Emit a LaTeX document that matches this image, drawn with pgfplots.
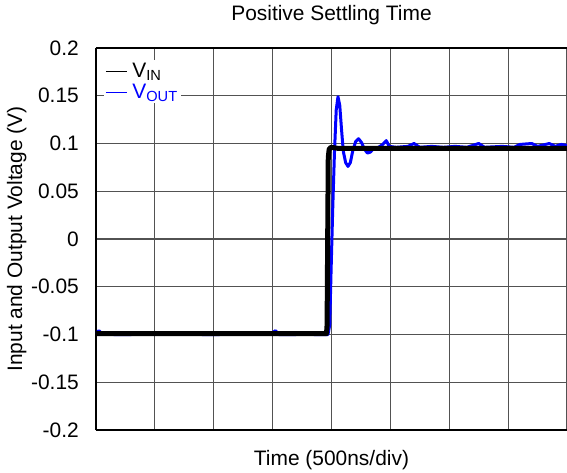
\documentclass[border=0pt]{standalone}
\usepackage{fontspec}
\setmainfont{Liberation Sans}
\usepackage{pgfplots}
\pgfplotsset{compat=1.18}
\newcommand{\bigfont}{\fontsize{21}{25}\selectfont}
\begin{document}
\begin{tikzpicture}
\begin{axis}[
    scale only axis,
    width=471bp, height=382bp,
    xmin=0, xmax=8,
    ymin=-0.2, ymax=0.2,
    xtick={0,1,...,8}, xticklabels={},
    ytick={-0.2,-0.15,-0.1,-0.05,0,0.05,0.1,0.15,0.2},
    yticklabels={-0.2,-0.15,-0.1,-0.05,0,0.05,0.1,0.15,0.2},
    major tick length=0pt,
    grid=major,
    grid style={line width=1.1bp, black!68},
    axis y line*=left,
    axis line style={-, line width=2.6bp, black},
    yticklabel style={font=\bigfont, inner sep=0pt, xshift=-17bp},
    title={Positive Settling Time},
    title style={font=\bigfont, at={(axis description cs:0.5,1.0576)}, anchor=base},
    xlabel={Time (500ns/div)},
    xlabel style={font=\bigfont, at={(axis description cs:0.5,-0.0942)}, anchor=base},
    ylabel={Input and Output Voltage (V)},
    ylabel style={font=\bigfont, at={(axis description cs:-0.1571,0.5)}, anchor=base},
    reverse legend,
    legend cell align=left,
    legend style={at={(axis description cs:0.017,0.968)}, anchor=north west,
        draw=none, fill=white, inner sep=1bp, font=\bigfont,
        row sep=1bp},
    legend image code/.code={\draw[#1, line width=1.2bp] (0bp,0bp) -- (21bp,0bp);},
]

% V_OUT
\addplot[color=blue, line width=3bp, line join=round] coordinates {
    (0,-0.099)(0.05,-0.096)(0.12,-0.1)(0.2,-0.098)(0.3,-0.1)(0.6,-0.1)
    (0.9,-0.099)(1.2,-0.1)(1.5,-0.099)(1.8,-0.1)(2.1,-0.1)(2.4,-0.099)
    (2.7,-0.1)(3.0,-0.098)(3.05,-0.096)(3.1,-0.1)(3.4,-0.1)(3.6,-0.098)
    (3.7,-0.1)(3.94,-0.1)(3.97,-0.09)(3.99,-0.04)(4.02,0.03)(4.05,0.09)
    (4.08,0.135)(4.11,0.149)(4.14,0.14)(4.17,0.115)(4.20,0.092)(4.24,0.08)
    (4.28,0.076)(4.32,0.08)(4.36,0.092)(4.41,0.102)(4.46,0.105)(4.51,0.101)
    (4.56,0.094)(4.61,0.09)(4.66,0.091)(4.72,0.095)(4.8,0.096)(4.87,0.099)
    (4.93,0.103)(4.98,0.097)(5.1,0.096)(5.3,0.097)(5.4,0.1)(5.5,0.096)
    (5.7,0.097)(5.9,0.096)(6.1,0.097)(6.3,0.096)(6.5,0.1)(6.6,0.096)
    (6.9,0.097)(7.1,0.096)(7.2,0.099)(7.4,0.1)(7.5,0.097)(7.7,0.1)
    (7.8,0.097)(7.9,0.099)(8,0.098)
};
\addlegendentry{\hspace{3bp}\textcolor{blue}{V\textsubscript{OUT}}}

% V_IN
\addplot[color=black, line width=5bp, line join=round] coordinates {
    (0,-0.099)(1,-0.099)(2,-0.099)(3,-0.099)(3.915,-0.099)(3.925,-0.09)
    (3.935,0.0)(3.945,0.085)(3.96,0.094)(3.99,0.096)(4.1,0.095)(5,0.095)
    (6,0.095)(7,0.095)(8,0.095)
};
\addlegendentry{\hspace{3bp}V\textsubscript{IN}}

\end{axis}
\pgfresetboundingbox
\path[use as bounding box] ([shift={(-96bp,-43bp)}]current axis.south west) rectangle ++(567bp,473bp);
\end{tikzpicture}
\end{document}
